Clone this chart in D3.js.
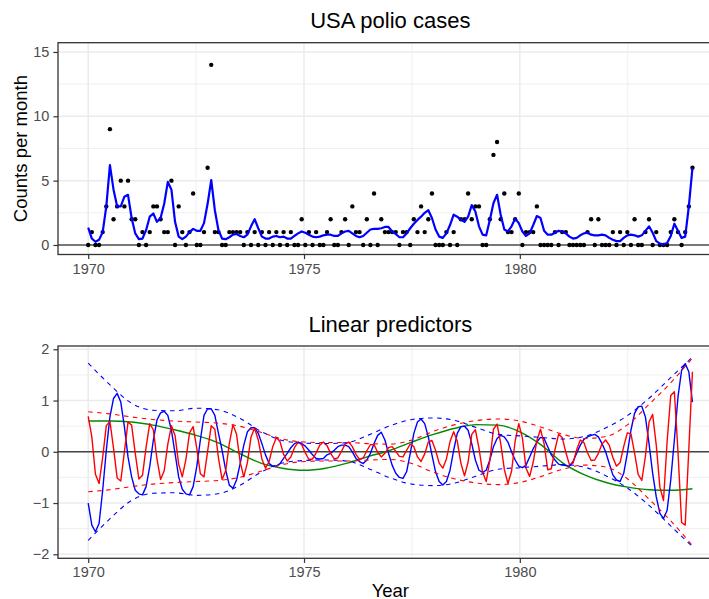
<!DOCTYPE html>
<html>
<head>
<meta charset="utf-8">
<script src="https://cdn.jsdelivr.net/npm/d3@7"></script>
<style>
  html, body { margin: 0; padding: 0; background: #fff; }
  svg { display: block; overflow: hidden; }
</style>
</head>
<body>
<svg id="chart" width="709" height="599"></svg>
<script>
// ---------------- DATA ----------------
const startYear = 1970, endYear = 1984, nObs = 168;

// monthly polio counts 1970-1983
const cases = [
  0,1,0,0,1,3,9,2,3,5,3,5,
  2,2,0,1,0,1,3,3,2,1,1,5,
  0,3,1,0,1,4,0,0,1,6,14,1,
  1,0,0,1,1,1,1,0,1,0,1,0,
  1,0,1,0,1,0,1,0,1,0,0,2,
  0,1,0,1,0,0,1,2,0,0,1,2,
  0,3,1,1,0,2,0,4,0,2,1,1,
  1,1,0,1,1,0,2,1,3,1,2,4,
  0,0,0,1,0,1,0,2,2,4,2,3,
  3,0,0,2,7,8,2,4,1,1,2,4,
  0,1,1,1,3,0,0,0,0,1,0,1,
  1,0,0,0,0,0,1,2,0,2,0,0,
  0,1,0,1,0,1,0,2,0,0,1,2,
  0,1,0,0,0,1,2,1,0,1,3,6
];

// fitted mean (blue line, top panel)
const fitted = [
  1.35,0.5,0.25,0.4,1.0,3.0,6.2,4.3,3.0,3.0,
  3.75,3.9,2.1,0.9,0.45,0.5,1.15,2.2,2.45,1.8,
  2.1,3.2,4.9,4.3,1.8,0.65,0.45,0.65,1.0,1.25,
  1.1,1.1,1.7,3.2,5.05,2.7,1.15,0.5,0.45,0.6,
  0.8,0.85,0.7,0.6,0.8,1.45,2.0,1.3,0.65,0.5,
  0.5,0.65,0.7,0.6,0.65,0.5,0.5,0.7,0.9,1.05,
  0.95,0.8,0.65,0.6,0.65,0.75,0.8,0.8,0.7,0.7,
  0.9,1.05,1.1,0.9,0.7,0.6,0.7,0.95,1.2,1.25,
  1.25,1.3,1.4,1.4,1.05,0.85,0.6,0.6,0.9,1.3,
  1.65,1.95,2.2,2.5,2.7,2.1,1.2,0.65,0.55,0.9,
  1.55,2.35,2.2,1.95,1.8,2.2,3.1,2.6,1.45,0.8,
  0.75,1.95,3.25,3.9,2.35,1.2,1.05,1.45,2.05,1.7,
  1.05,0.7,0.9,1.55,2.25,2.1,1.1,0.8,0.8,0.95,
  1.1,1.05,0.9,0.65,0.5,0.55,0.75,0.9,0.95,0.8,
  0.75,0.75,0.8,0.75,0.55,0.4,0.3,0.3,0.55,0.75,
  0.8,0.75,0.65,0.75,1.1,1.45,0.95,0.3,0.1,0.05,
  0.15,0.7,1.65,1.1,0.55,0.65,3.0,6.0
];

// linear predictor, annual component (blue)
const lpAnnual = [
  -1.0,-1.43,-1.56,-1.4,-0.75,0.03,0.68,1.04,1.14,0.97,
  0.49,-0.1,-0.49,-0.75,-0.82,-0.84,-0.68,-0.29,0.23,0.62,
  0.76,0.79,0.71,0.42,-0.03,-0.49,-0.73,-0.82,-0.84,-0.68,
  -0.29,0.23,0.71,0.84,0.84,0.71,0.36,0.03,-0.36,-0.65,
  -0.71,-0.55,-0.23,0.13,0.39,0.47,0.47,0.36,0.16,-0.06,
  -0.23,-0.28,-0.28,-0.23,-0.13,-0.03,0.08,0.16,0.19,0.16,
  0.11,0.03,-0.06,-0.13,-0.14,-0.13,-0.06,-0.03,0.03,0.1,
  0.13,0.13,0.1,0.0,-0.13,-0.19,-0.23,-0.16,-0.03,0.16,
  0.32,0.38,0.23,-0.03,-0.26,-0.42,-0.5,-0.52,-0.39,-0.03,
  0.36,0.58,0.64,0.55,0.29,-0.06,-0.39,-0.58,-0.65,-0.58,
  -0.36,0.03,0.36,0.49,0.5,0.42,0.16,-0.16,-0.36,-0.4,
  -0.36,-0.16,0.1,0.26,0.32,0.29,0.19,0.0,-0.16,-0.28,
  -0.31,-0.26,-0.1,0.06,0.19,0.28,0.26,0.1,-0.06,-0.16,
  -0.24,-0.26,-0.27,-0.28,-0.19,-0.03,0.13,0.24,0.29,0.32,
  0.34,0.29,0.16,0.0,-0.23,-0.45,-0.55,-0.58,-0.42,-0.03,
  0.42,0.75,0.88,0.89,0.68,0.16,-0.42,-0.88,-1.2,-1.3,
  -1.14,-0.55,0.23,1.07,1.59,1.72,1.56,0.97
];

// linear predictor, semi-annual component (red)
const lpSemi = [
  0.69,0.29,-0.44,-0.62,-0.11,0.51,0.59,0.07,-0.51,-0.57,
  0.0,0.58,0.52,-0.03,-0.53,-0.46,0.09,0.55,0.43,-0.14,
  -0.54,-0.37,0.15,0.51,0.32,-0.24,-0.49,-0.15,0.37,0.49,
  0.07,-0.43,-0.49,0.01,0.51,0.44,-0.12,-0.54,-0.37,0.16,
  0.53,0.34,-0.2,-0.49,-0.21,0.29,0.46,0.23,-0.14,-0.32,
  -0.19,0.1,0.28,0.2,-0.05,-0.18,-0.1,0.08,0.19,0.14,
  -0.02,-0.15,-0.14,-0.02,0.13,0.19,0.12,-0.03,-0.14,-0.12,
  0.01,0.15,0.19,0.1,-0.05,-0.15,-0.12,0.02,0.14,0.14,
  -0.01,-0.1,-0.03,0.08,0.1,0.01,-0.09,-0.1,0.03,0.15,
  0.1,-0.1,-0.19,-0.04,0.19,0.22,0.03,-0.22,-0.32,-0.14,
  0.2,0.39,0.21,-0.22,-0.47,-0.2,0.34,0.43,0.07,-0.4,
  -0.58,-0.17,0.44,0.54,0.17,-0.34,-0.62,-0.38,0.21,0.55,
  0.27,-0.32,-0.48,-0.2,0.22,0.44,0.16,-0.35,-0.33,0.04,
  0.34,0.28,-0.01,-0.25,-0.22,0.04,0.23,0.18,-0.02,-0.17,
  -0.16,-0.03,0.15,0.23,0.13,-0.11,-0.28,-0.21,0.1,0.37,
  0.35,-0.02,-0.44,-0.56,-0.09,0.58,0.73,0.13,-0.69,-0.95,
  0.2,1.1,1.17,0.0,-1.38,-1.43,0.06,1.56
];

// smooth components sampled every half year
const halfYears = [1970,1970.5,1971,1971.5,1972,1972.5,1973,1973.5,1974,1974.5,
  1975,1975.5,1976,1976.5,1977,1977.5,1978,1978.5,1979,1979.5,
  1980,1980.5,1981,1981.5,1982,1982.5,1983,1983.5,1984];
const trend = [0.60,0.60,0.58,0.52,0.43,0.32,0.18,-0.03,-0.22,-0.32,
  -0.36,-0.32,-0.22,-0.09,0.03,0.19,0.34,0.46,0.53,0.52,
  0.39,0.13,-0.22,-0.45,-0.60,-0.69,-0.74,-0.75,-0.72];
const ampAnnual = [1.73,1.31,0.95,0.81,0.80,0.85,0.82,0.66,0.40,0.22,
  0.17,0.16,0.18,0.33,0.51,0.63,0.66,0.61,0.47,0.34,
  0.31,0.28,0.25,0.30,0.47,0.71,1.05,1.45,1.85];
const ampSemi = [0.78,0.74,0.68,0.63,0.60,0.58,0.56,0.50,0.38,0.25,
  0.19,0.18,0.18,0.16,0.15,0.23,0.40,0.53,0.61,0.64,
  0.60,0.48,0.34,0.26,0.30,0.53,0.93,1.35,1.83];

// ticks
const xMajor = [1970, 1975, 1980];
const xMinor = [1972.5, 1977.5, 1982.5];
const yMajorTop = [0, 5, 10, 15];
const yMinorTop = [2.5, 7.5, 12.5];
const yMajorBot = [-2, -1, 0, 1, 2];
const yMinorBot = [-1.5, -0.5, 0.5, 1.5];

// ---------------- LAYOUT ----------------
const FONT = "'Liberation Sans', Arial, Helvetica, sans-serif";
const svg = d3.select("#chart").style("font-family", FONT);

const time = d3.range(nObs).map(i => startYear + i * (endYear - startYear) / (nObs - 1));

const panelLeft = 58, panelRight = 58 + 15.4 * 43.16;
const x = d3.scaleLinear().domain([1969.3, 1984.7]).range([panelLeft, panelRight]);
const yTop = d3.scaleLinear().domain([-0.74, 15.72]).range([254.5, 42.7]);
const yBot = d3.scaleLinear().domain([-2.078, 2.064]).range([558.3, 346]);

const fmt = d3.format("d");

function panel(id, y, yMajor, yMinor) {
  const [y0, y1] = y.range();
  const g = svg.append("g");
  g.append("rect").attr("x", panelLeft).attr("y", y1)
    .attr("width", panelRight - panelLeft).attr("height", y0 - y1).attr("fill", "#fff");
  g.selectAll(null).data(yMinor).enter().append("line")
    .attr("x1", panelLeft).attr("x2", panelRight)
    .attr("y1", d => y(d)).attr("y2", d => y(d))
    .attr("stroke", "#EBEBEB").attr("stroke-width", 0.8);
  g.selectAll(null).data(xMinor).enter().append("line")
    .attr("y1", y0).attr("y2", y1)
    .attr("x1", d => x(d)).attr("x2", d => x(d))
    .attr("stroke", "#EBEBEB").attr("stroke-width", 0.8);
  g.selectAll(null).data(yMajor).enter().append("line")
    .attr("x1", panelLeft).attr("x2", panelRight)
    .attr("y1", d => y(d)).attr("y2", d => y(d))
    .attr("stroke", "#EBEBEB").attr("stroke-width", 1.5);
  g.selectAll(null).data(xMajor).enter().append("line")
    .attr("y1", y0).attr("y2", y1)
    .attr("x1", d => x(d)).attr("x2", d => x(d))
    .attr("stroke", "#EBEBEB").attr("stroke-width", 1.5);

  const clip = svg.append("clipPath").attr("id", id);
  clip.append("rect").attr("x", panelLeft).attr("y", y1)
    .attr("width", panelRight - panelLeft).attr("height", y0 - y1);
  const plot = svg.append("g").attr("clip-path", `url(#${id})`);

  const ax = svg.append("g").attr("transform", `translate(${panelLeft},0)`)
    .call(d3.axisLeft(y).tickValues(yMajor).tickFormat(fmt).tickSize(4.6).tickPadding(4));
  const bx = svg.append("g").attr("transform", `translate(0,${y0})`)
    .call(d3.axisBottom(x).tickValues(xMajor).tickFormat(fmt).tickSize(4.6).tickPadding(4.3));
  [ax, bx].forEach(a => {
    a.select(".domain").remove();
    a.selectAll(".tick line").attr("stroke", "#333").attr("stroke-width", 1.2);
    a.selectAll(".tick text").attr("fill", "#4D4D4D").style("font-size", "14.5px")
      .style("font-family", FONT);
  });

  return { plot, y, y0, y1 };
}

function border(p) {
  svg.append("rect").attr("x", panelLeft).attr("y", p.y1)
    .attr("width", panelRight - panelLeft).attr("height", p.y0 - p.y1)
    .attr("fill", "none").attr("stroke", "#333").attr("stroke-width", 1.3);
}

// ---------------- TOP PANEL ----------------
const topP = panel("clipTop", yTop, yMajorTop, yMinorTop);
topP.plot.append("line").attr("x1", panelLeft).attr("x2", panelRight)
  .attr("y1", yTop(0)).attr("y2", yTop(0)).attr("stroke", "#000").attr("stroke-width", 1.1);
topP.plot.selectAll("circle").data(cases).enter().append("circle")
  .attr("cx", (d, i) => x(time[i])).attr("cy", d => yTop(d)).attr("r", 2.2).attr("fill", "#000");
topP.plot.append("path").datum(fitted)
  .attr("d", d3.line().x((d, i) => x(time[i])).y(d => yTop(d)))
  .attr("fill", "none").attr("stroke", "#0000FF").attr("stroke-width", 2.2)
  .attr("stroke-linejoin", "round");
border(topP);

// ---------------- BOTTOM PANEL ----------------
const botP = panel("clipBot", yBot, yMajorBot, yMinorBot);
botP.plot.append("line").attr("x1", panelLeft).attr("x2", panelRight)
  .attr("y1", yBot(0)).attr("y2", yBot(0)).attr("stroke", "#444").attr("stroke-width", 1.4);

const smooth = d3.line().curve(d3.curveMonotoneX);
function smoothPath(vals, sign) {
  return smooth(vals.map((v, i) => [x(halfYears[i]), yBot(sign * v)]));
}
botP.plot.append("path").attr("d", smoothPath(trend, 1))
  .attr("fill", "none").attr("stroke", "#008B00").attr("stroke-width", 1.4);

const monthly = d3.line().x((d, i) => x(time[i])).y(d => yBot(d));
botP.plot.append("path").datum(lpAnnual).attr("d", monthly)
  .attr("fill", "none").attr("stroke", "#0000FF").attr("stroke-width", 1.4).attr("stroke-linejoin", "round");
botP.plot.append("path").datum(lpSemi).attr("d", monthly)
  .attr("fill", "none").attr("stroke", "#FF0000").attr("stroke-width", 1.4).attr("stroke-linejoin", "round");

[1, -1].forEach(s => {
  botP.plot.append("path").attr("d", smoothPath(ampAnnual, s))
    .attr("fill", "none").attr("stroke", "#0000FF").attr("stroke-width", 1.1)
    .attr("stroke-dasharray", "4.5,4.5");
  botP.plot.append("path").attr("d", smoothPath(ampSemi, s))
    .attr("fill", "none").attr("stroke", "#FF0000").attr("stroke-width", 1.1)
    .attr("stroke-dasharray", "4.5,4.5");
});
border(botP);

// ---------------- TEXT ----------------
const cx = (panelLeft + panelRight) / 2;
svg.append("text").attr("x", cx).attr("y", 28.3).attr("text-anchor", "middle")
  .style("font-size", "22px").attr("fill", "#000").text("USA polio cases");
svg.append("text").attr("x", cx).attr("y", 331.6).attr("text-anchor", "middle")
  .style("font-size", "22px").attr("fill", "#000").text("Linear predictors");
svg.append("text").attr("transform", `translate(27,${(yTop.range()[0] + yTop.range()[1]) / 2}) rotate(-90)`)
  .attr("text-anchor", "middle").style("font-size", "18.5px").attr("fill", "#000").text("Counts per month");
svg.append("text").attr("x", cx).attr("y", 596.5).attr("text-anchor", "middle")
  .style("font-size", "18.5px").attr("fill", "#000").text("Year");
</script>
</body>
</html>
